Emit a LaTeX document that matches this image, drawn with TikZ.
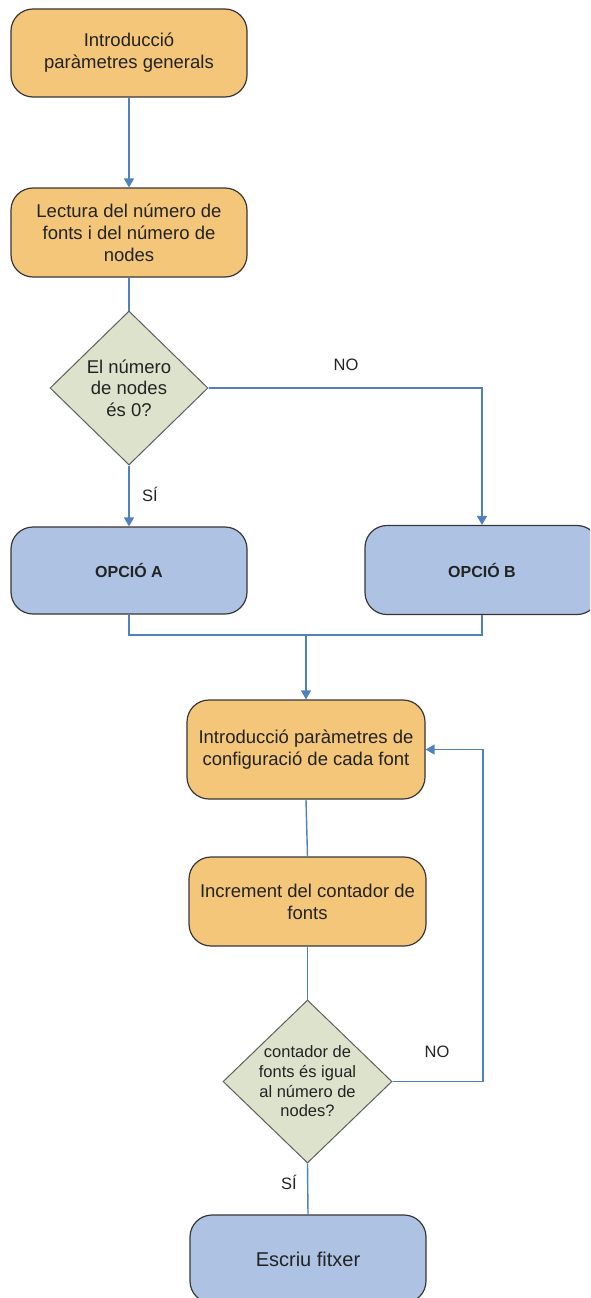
\documentclass[tikz,border=0pt]{standalone}
\usepackage{fontspec}
\setmainfont{Liberation Sans}
\usetikzlibrary{shapes.geometric,arrows.meta}

\definecolor{orangefill}{RGB}{244,198,121}
\definecolor{bluefill}{RGB}{174,195,228}
\definecolor{greenfill}{RGB}{221,226,205}
\definecolor{linkblue}{RGB}{79,129,189}
\definecolor{boxline}{RGB}{55,55,55}
\definecolor{diamline}{RGB}{95,95,90}
\definecolor{txt}{RGB}{35,35,35}

\begin{document}
\begin{tikzpicture}[x=1pt,y=-1pt,
  procbox/.style={draw=boxline, line width=1.2pt, rounded corners=22pt,
    minimum width=236pt, minimum height=88pt, inner sep=0pt, align=center,
    text=txt, font=\fontsize{18.5}{22}\selectfont},
  decision/.style={diamond, draw=diamline, line width=1pt, fill=greenfill,
    inner sep=0pt},
  dtext/.style={align=center, text=txt, inner sep=0pt},
  tag/.style={text=txt, inner sep=0pt, font=\fontsize{16.5}{20}\selectfont},
  link/.style={draw=linkblue, line width=1.4pt,
    -{Triangle[length=9pt,width=10pt]}},
  plain/.style={draw=linkblue, line width=1.4pt}
]
\useasboundingbox (0,0) rectangle (590,1298);
\clip (0,0) rectangle (590,1298);

% process boxes
\node[procbox, fill=orangefill] (b1) at (129,53) {Introducció\\paràmetres generals};
\node[procbox, fill=orangefill, minimum height=89pt] (b2) at (129,232.5)
  {Lectura del número de\\fonts i del número de\\nodes};
\node[procbox, fill=bluefill, minimum height=87pt,
  font=\bfseries\fontsize{16}{20}\selectfont] (bA) at (129,570.5) {OPCIÓ A};
\node[procbox, fill=bluefill, minimum height=89pt, minimum width=234pt,
  font=\bfseries\fontsize{16}{20}\selectfont] (bB) at (482,570) {OPCIÓ B};
\node[procbox, fill=orangefill, minimum width=238pt, minimum height=99pt]
  (b3) at (306,749.5) {Introducció paràmetres de\\configuració de cada font};
\node[procbox, fill=orangefill, minimum width=237pt, minimum height=89pt]
  (b4) at (307.5,901.5) {Increment del contador de\\fonts};
\node[procbox, fill=bluefill, minimum height=88pt,
  font=\fontsize{20}{24}\selectfont] (b5) at (308,1259) {Escriu fitxer};

% decisions
\node[decision, minimum width=158pt, minimum height=154pt] (d1) at (129,388) {};
\node[dtext, font=\fontsize{18.5}{21.7}\selectfont] (d1t) at (d1.center)
  {El número\\de nodes\\és 0?};
\node[decision, minimum width=169pt, minimum height=163pt] (d2) at (307.5,1081.5) {};
\node[dtext, font=\fontsize{16.5}{19.7}\selectfont] (d2t) at (d2.center)
  {contador de\\fonts és igual\\al número de\\nodes?};

% branch labels
\node[tag] (no1) at (346,365) {NO};
\node[tag] (si1) at (150,494) {SÍ};
\node[tag] (no2) at (437,1052) {NO};
\node[tag] (si2) at (289,1182) {SÍ};

% helper points
\coordinate (m) at (306,635);
\coordinate (rx) at (483,749.5);

% connectors
\draw[link] (b1.south) -- (b2.north);
\draw[plain] (b2.south) -- (d1.north);
\draw[link] (d1.south) -- (bA.north);
\draw[link] (d1.east) -| (bB.north);
\draw[plain] (bA.south) |- (m) -| (bB.south);
\draw[link] (m) -- (m |- b3.north);
\draw[plain] (b3.south) -- (b4.north);
\draw[plain] (b4.south) -- (d2.north);
\draw[link] (d2.east) -| (rx) -- (b3.east);
\draw[plain] (d2.south) -- (b5.north);
\end{tikzpicture}
\end{document}
